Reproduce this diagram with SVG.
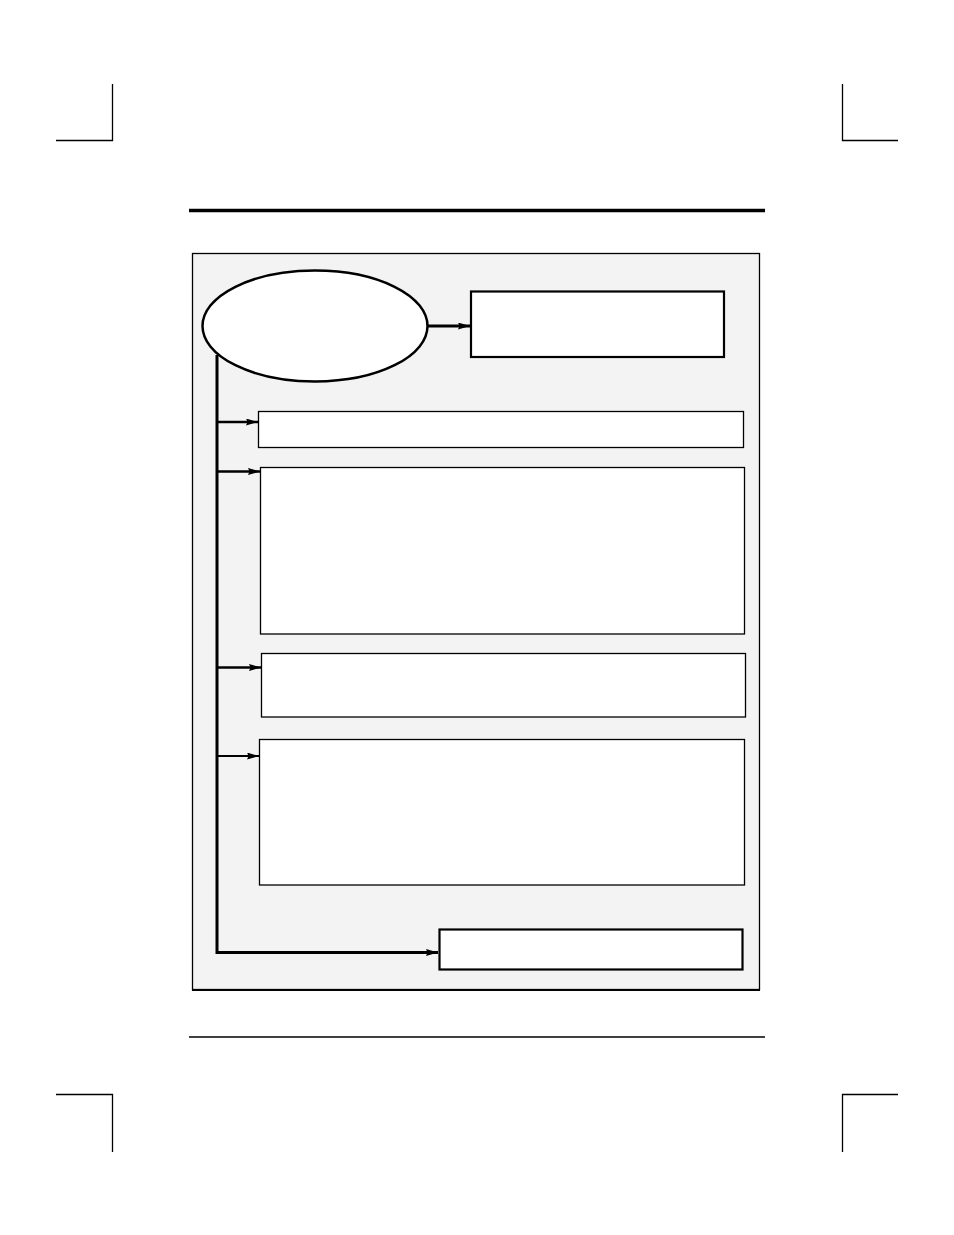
<svg xmlns="http://www.w3.org/2000/svg" width="954" height="1235" viewBox="0 0 954 1235">
<defs>
<style>
.crop{stroke:#000;stroke-width:1.3;fill:none}
.box{fill:#fff;stroke:#000;stroke-width:1.3}
.boxb{fill:#fff;stroke:#000;stroke-width:2.2}
.conn{stroke:#000;fill:none;stroke-linecap:butt}
</style>
<marker id="ah" viewBox="0 0 12 7" refX="12" refY="3.5" markerUnits="userSpaceOnUse" markerWidth="12" markerHeight="7" orient="auto">
<path d="M0,0 L12,3.5 L0,7 L1.5,3.5 Z" fill="#000"/>
</marker>
</defs>
<rect width="954" height="1235" fill="#fff"/>
<g id="page-marks">
<path class="crop" d="M112.5,84 V140.5 H56"/>
<path class="crop" d="M842.5,84 V140.5 H898"/>
<path class="crop" d="M56,1094.5 H112.5 V1152"/>
<path class="crop" d="M898,1094.5 H842.5 V1152"/>
<line x1="189" y1="210.5" x2="765" y2="210.5" stroke="#000" stroke-width="3.5"/>
<line x1="189" y1="1037" x2="765" y2="1037" stroke="#000" stroke-width="1.3"/>
</g>
<g id="panel">
<rect x="192.5" y="253.5" width="567" height="736" fill="#f3f3f3" stroke="#000" stroke-width="1.3"/>
<line x1="192" y1="990" x2="760" y2="990" stroke="#000" stroke-width="2"/>
</g>
<g id="connectors">
<line class="conn" x1="428" y1="326" x2="470" y2="326" stroke-width="3" marker-end="url(#ah)"/>
<polyline class="conn" points="217,355 217,952.5 438,952.5" stroke-width="3" marker-end="url(#ah)"/>
<line class="conn" x1="217" y1="422" x2="258" y2="422" stroke-width="2.5" marker-end="url(#ah)"/>
<line class="conn" x1="217" y1="471.5" x2="260" y2="471.5" stroke-width="2.5" marker-end="url(#ah)"/>
<line class="conn" x1="217" y1="667.5" x2="261" y2="667.5" stroke-width="2.5" marker-end="url(#ah)"/>
<line class="conn" x1="217" y1="756" x2="259" y2="756" stroke-width="2" marker-end="url(#ah)"/>
</g>
<g id="node-ellipse">
<ellipse cx="315" cy="326" rx="112.5" ry="55.5" fill="#fff" stroke="#000" stroke-width="2.5"/>
</g>
<g id="node-top-right">
<rect class="boxb" x="471" y="291.5" width="253" height="65.5"/>
</g>
<g id="node-1">
<rect class="box" x="258.5" y="411.5" width="485" height="36"/>
</g>
<g id="node-2">
<rect class="box" x="260.5" y="467.5" width="484" height="166.5"/>
</g>
<g id="node-3">
<rect class="box" x="261.5" y="653.5" width="484" height="63.5"/>
</g>
<g id="node-4">
<rect class="box" x="259.5" y="739.5" width="485" height="145.5"/>
</g>
<g id="node-5">
<rect class="boxb" x="439.5" y="929.5" width="303" height="40"/>
</g>
</svg>
